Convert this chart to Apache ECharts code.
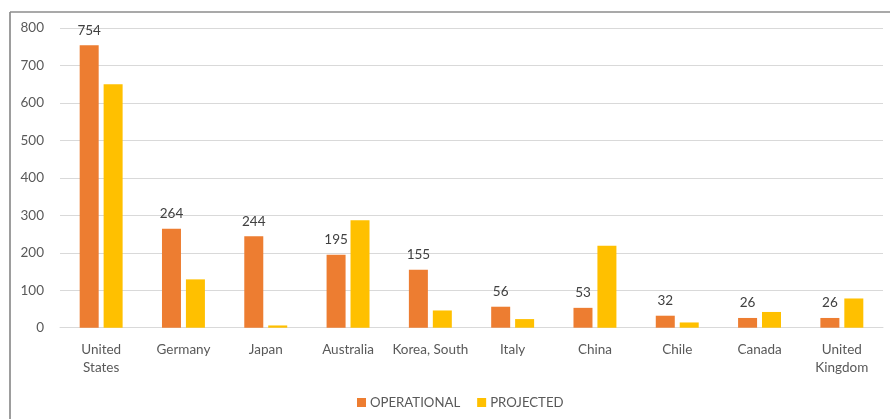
<!DOCTYPE html>
<html>
<head>
<meta charset="utf-8">
<script src="https://cdn.jsdelivr.net/npm/echarts@6/dist/echarts.min.js"></script>
<style>
  html, body { margin: 0; padding: 0; background: #fff; }
  #chart { width: 890px; height: 419px; }
</style>
</head>
<body>
<div id="chart"></div>
<script>
// Countries, left to right
const countries = ['United\nStates', 'Germany', 'Japan', 'Australia', 'Korea, South',
                   'Italy', 'China', 'Chile', 'Canada', 'United\nKingdom'];
// Operational units per country (labelled)
const operational = [754, 264, 244, 195, 155, 56, 53, 32, 26, 26];
// Projected units per country
const projected = [650, 129, 6, 287, 46, 23, 219, 14, 42, 78];
// Y axis ticks
const yMin = 0, yMax = 800, yStep = 100;

const fontFamily = 'Lato, "Open Sans", sans-serif';
const chart = echarts.init(document.getElementById('chart'));
chart.setOption({
  animation: false,
  textStyle: { fontFamily: fontFamily },
  grid: { left: 60, right: 7, top: 28, bottom: 91.3, containLabel: false },
  graphic: [
    { type: 'line', shape: { x1: 10, y1: 12, x2: 890, y2: 12 },
      style: { stroke: '#8c8c8c', lineWidth: 1.7 } },
    { type: 'line', shape: { x1: 10, y1: 12, x2: 10, y2: 419 },
      style: { stroke: '#8c8c8c', lineWidth: 1.7 } }
  ],
  legend: {
    bottom: 5,
    left: 352,
    padding: [5, 5, 5, 5],
    itemWidth: 9,
    itemHeight: 9,
    itemGap: 17,
    icon: 'rect',
    textStyle: { color: '#595959', fontSize: 13.2, fontFamily: fontFamily, padding: [0, 0, 0, -1] },
    data: ['OPERATIONAL', 'PROJECTED']
  },
  xAxis: {
    type: 'category',
    data: countries,
    axisLine: { show: true, lineStyle: { color: '#d9d9d9', width: 1 } },
    axisTick: { show: false },
    axisLabel: { color: '#595959', fontSize: 13.5, lineHeight: 18, margin: 13, interval: 0, fontFamily: fontFamily }
  },
  yAxis: {
    type: 'value',
    min: yMin, max: yMax, interval: yStep,
    axisLine: { show: false },
    axisTick: { show: false },
    splitLine: { lineStyle: { color: '#d9d9d9', width: 1.2 } },
    axisLabel: { color: '#595959', fontSize: 13.5, margin: 16, fontFamily: fontFamily }
  },
  series: [
    {
      name: 'OPERATIONAL',
      type: 'bar',
      data: operational,
      barWidth: 19,
      barGap: '26%',
      itemStyle: { color: '#ED7D31' },
      label: { show: true, position: 'top', distance: 8, color: '#404040', fontSize: 13.5, fontFamily: fontFamily }
    },
    {
      name: 'PROJECTED',
      type: 'bar',
      data: projected,
      barWidth: 19,
      itemStyle: { color: '#FFC000' }
    }
  ]
});
</script>
</body>
</html>
